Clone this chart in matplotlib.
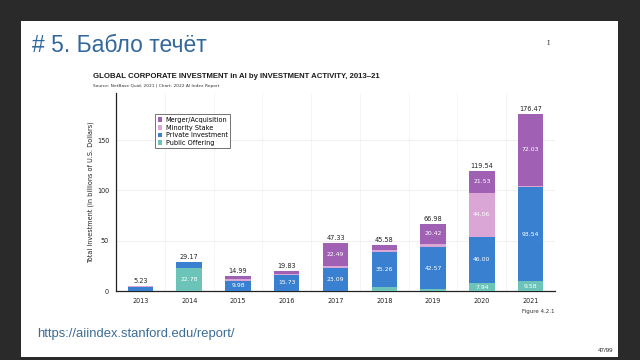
import matplotlib
matplotlib.use('Agg')
import matplotlib.pyplot as plt
import numpy as np
from matplotlib.patches import Rectangle

years = ['2013', '2014', '2015', '2016', '2017', '2018', '2019', '2020', '2021']
public_offering = [0.30, 22.78, 0.00, 0.10, 0.20, 4.00, 1.50, 7.94, 9.58]
private_investment = [3.90, 6.39, 9.98, 15.73, 23.09, 35.26, 42.57, 46.00, 93.54]
minority_stake = [0.60, 0.00, 2.00, 1.20, 1.55, 1.70, 2.49, 44.06, 1.32]
merger_acquisition = [0.43, 0.00, 3.01, 2.80, 22.49, 4.62, 20.42, 21.53, 72.03]
totals = [5.23, 29.17, 14.99, 19.83, 47.33, 45.58, 66.98, 119.54, 176.47]

series = [
    ('Public Offering', public_offering, '#6cc4b8'),
    ('Private Investment', private_investment, '#3a80d0'),
    ('Minority Stake', minority_stake, '#d9a6d5'),
    ('Merger/Acquisition', merger_acquisition, '#a060b4'),
]

fig = plt.figure(figsize=(6.4, 3.6), dpi=100)
fig.patch.set_facecolor('#2a2a2a')

# слайд
fig.patches.append(Rectangle((21 / 640, 1 - 357 / 360), 597 / 640, 336 / 360,
                             transform=fig.transFigure, facecolor='white',
                             edgecolor='none', zorder=-5))

fig.text(32 / 640, 1 - 46 / 360, '# 5. Бабло течёт', fontsize=16.5,
         family='Liberation Sans', color='#33689c', va='center', ha='left')
fig.text(548 / 640, 1 - 43 / 360, 'I', fontsize=6, family='DejaVu Serif',
         color='#555555', va='center', ha='center')
fig.text(37 / 640, 1 - 334 / 360, 'https://aiindex.stanford.edu/report/', fontsize=9.4,
         family='Liberation Sans', color='#3c6c97', va='center', ha='left')
fig.text(613 / 640, 1 - 350 / 360, '47/99', fontsize=4.5, family='Liberation Sans',
         color='#222222', va='center', ha='right')

fig.text(93 / 640, 1 - 76 / 360,
         'GLOBAL CORPORATE INVESTMENT in AI by INVESTMENT ACTIVITY, 2013–21',
         fontsize=5.6, fontweight='bold', family='Liberation Sans', color='#1a1a1a',
         va='center', ha='left')
fig.text(93 / 640, 1 - 86 / 360,
         'Source: NetBase Quid, 2021 | Chart: 2022 AI Index Report',
         fontsize=3.2, family='DejaVu Sans', color='#333333', va='center', ha='left')
fig.text(555 / 640, 1 - 311 / 360, 'Figure 4.2.1', fontsize=4,
         family='DejaVu Sans', color='#333333', va='center', ha='right')

ax = fig.add_axes([116 / 640, 1 - 291 / 360, 439 / 640, 198 / 360])
ax.set_facecolor('white')
x = np.arange(len(years))
bottom = np.zeros(len(years))
for name, vals, color in series:
    vals = np.array(vals)
    ax.bar(x, vals, 0.52, bottom=bottom, color=color, label=name, zorder=3)
    for i, v in enumerate(vals):
        if v >= 7:
            ax.text(x[i], bottom[i] + v / 2, f'{v:.2f}', ha='center', va='center',
                    fontsize=4.4, color='white', zorder=4)
    bottom += vals

for i, t in enumerate(totals):
    ax.text(x[i], t + 2, f'{t:.2f}', ha='center', va='bottom', fontsize=4.7,
            color='#222222', zorder=4)

ax.set_xlim(-0.5, len(years) - 0.5)
ax.set_ylim(0, 197)
ax.set_xticks(x)
ax.set_xticklabels(years)
ax.set_yticks([0, 50, 100, 150])
ax.tick_params(axis='both', length=0, labelsize=4.7, colors='#222222', pad=5)
ax.set_xticks(np.arange(-0.5, len(years), 1), minor=True)
ax.tick_params(axis='x', which='minor', length=0)
ax.grid(axis='y', color='#eeeeee', linewidth=0.6, zorder=0)
ax.grid(axis='x', which='minor', color='#f2f2f2', linewidth=0.6, zorder=0)
ax.grid(axis='x', which='major', visible=False)
for s in ['top', 'right']:
    ax.spines[s].set_visible(False)
for s in ['left', 'bottom']:
    ax.spines[s].set_color('#222222')
    ax.spines[s].set_linewidth(0.9)
ax.set_ylabel('Total Investment (in billions of U.S. Dollars)', fontsize=4.7,
              color='#222222', labelpad=2)

handles, labels = ax.get_legend_handles_labels()
leg = ax.legend(handles[::-1], labels[::-1], loc='upper left',
                bbox_to_anchor=(36 / 439, 1 - 18 / 198), fontsize=4.7,
                frameon=True, fancybox=False, edgecolor='#333333',
                handlelength=0.7, handleheight=0.7, handletextpad=0.5,
                borderpad=0.4, labelspacing=0.25)
leg.get_frame().set_linewidth(0.6)

fig.savefig('out.png', dpi=100, facecolor=fig.get_facecolor())
